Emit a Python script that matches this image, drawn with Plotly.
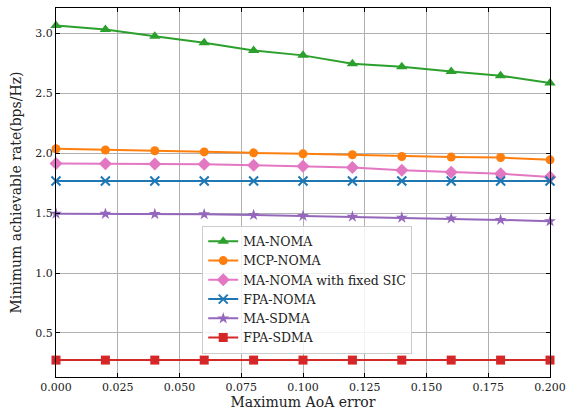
import plotly.graph_objects as go

x_err = [0.0, 0.02, 0.04, 0.06, 0.08, 0.10, 0.12, 0.14, 0.16, 0.18, 0.20]

ma_noma = [3.065, 3.03, 2.975, 2.92, 2.855, 2.815, 2.745, 2.72, 2.68, 2.645, 2.585]
mcp_noma = [2.036, 2.026, 2.02, 2.01, 2.002, 1.994, 1.986, 1.972, 1.967, 1.963, 1.944]
ma_noma_fixed_sic = [1.914, 1.911, 1.91, 1.908, 1.898, 1.89, 1.88, 1.858, 1.84, 1.828, 1.80]
fpa_noma = [1.767] * 11
ma_sdma = [1.495, 1.494, 1.492, 1.49, 1.484, 1.476, 1.47, 1.462, 1.455, 1.443, 1.432]
fpa_sdma = [0.274] * 11

series = [
    ("MA-NOMA", ma_noma, "#2ca02c", "triangle-up", 10),
    ("MCP-NOMA", mcp_noma, "#ff7f0e", "circle", 9),
    ("MA-NOMA with fixed SIC", ma_noma_fixed_sic, "#e377c2", "diamond", 10),
    ("FPA-NOMA", fpa_noma, "#1f77b4", "x-thin", 9),
    ("MA-SDMA", ma_sdma, "#9467bd", "star", 9),
    ("FPA-SDMA", fpa_sdma, "#d62728", "square", 9),
]

fig = go.Figure()
for name, ys, col, sym, sz in series:
    fig.add_trace(go.Scatter(
        x=x_err, y=ys, name=name, mode="lines+markers",
        line=dict(color=col, width=2),
        marker=dict(symbol=sym, size=sz, color=col,
                    line=dict(color=col, width=2 if sym == "x-thin" else 0)),
        cliponaxis=False,
    ))

font = "DejaVu Serif, serif"
axis_common = dict(
    showgrid=True, gridcolor="#b0b0b0", gridwidth=1,
    showline=True, linecolor="black", linewidth=1, mirror="ticks",
    ticks="inside", ticklen=4, tickcolor="black",
    tickfont=dict(family=font, size=11, color="#222"),
    zeroline=False,
)
fig.update_xaxes(range=[0.0, 0.2], tickvals=[0, 0.025, 0.05, 0.075, 0.1, 0.125, 0.15, 0.175, 0.2],
                 ticktext=["0.000", "0.025", "0.050", "0.075", "0.100", "0.125", "0.150", "0.175", "0.200"],
                 title=dict(text="Maximum AoA error", font=dict(family=font, size=14, color="#222"), standoff=3),
                 **axis_common)
fig.update_yaxes(range=[0.133, 3.21], tickvals=[0.5, 1.0, 1.5, 2.0, 2.5, 3.0],
                 ticktext=["0.5", "1.0", "1.5", "2.0", "2.5", "3.0"],
                 title=dict(text="Minimum achievable rate(bps/Hz)", font=dict(family=font, size=14, color="#222"), standoff=10),
                 **axis_common)

fig.update_layout(
    width=574, height=414,
    margin=dict(l=56, r=24, t=8, b=37, autoexpand=False),
    plot_bgcolor="white", paper_bgcolor="white",
    font=dict(family=font, size=12, color="#222"),
    legend=dict(x=0.296, y=0.41, xanchor="left", yanchor="top",
                bgcolor="rgba(255,255,255,0.85)", bordercolor="#cccccc", borderwidth=1,
                font=dict(family=font, size=12.5, color="#222"),
                tracegroupgap=0, itemwidth=30),
    showlegend=True,
)

fig.write_html("out.html", config={"displayModeBar": False},
               post_script="document.body.style.margin='0px';")
